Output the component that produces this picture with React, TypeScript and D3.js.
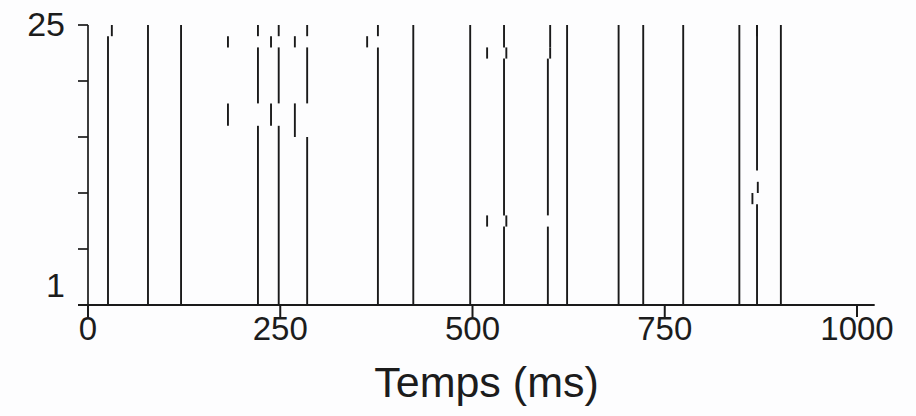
import React from "react";
import * as d3 from "d3";

// Spike columns present in every trial (1–25), times in ms
const fullColumns: number[] = [78, 121, 423, 497, 623, 690, 722, 774, 847, 901];

// Partial spike columns: time (ms) and trial range [from, to]
const partialTimes: number[] = [
  26, 31,
  182, 182,
  221, 221, 221,
  238, 238,
  248, 248, 248,
  269, 269,
  285, 285, 285,
  363,
  377, 377,
  519, 519,
  541, 541, 541, 544, 544,
  598, 598, 601, 601,
  870, 870, 871, 864, 870,
];
const partialFrom: number[] = [
  1, 25,
  24, 17,
  25, 19, 1,
  24, 17,
  25, 19, 1,
  24, 16,
  25, 19, 1,
  24,
  25, 1,
  23, 8,
  1, 9, 24, 8, 23,
  1, 9, 23, 24,
  13, 1, 11, 10, 25,
];
const partialTo: number[] = [
  24, 25,
  24, 18,
  25, 23, 16,
  24, 18,
  25, 23, 16,
  24, 18,
  25, 23, 15,
  24,
  25, 23,
  23, 8,
  7, 22, 25, 8, 23,
  7, 22, 23, 25,
  25, 9, 11, 10, 25,
];

const xTicks: number[] = [0, 250, 500, 750, 1000];
const yTicks: number[] = [0, 5, 10, 15, 20, 25];
const yLabels: { v: number; label: string }[] = [
  { v: 25, label: "25" },
  { v: 1, label: "1" },
];

const W = 916;
const H = 416;

export default function App() {
  const x = d3.scaleLinear().domain([0, 1000]).range([88, 857]);
  const y = d3.scaleLinear().domain([0, 25]).range([305, 25]);

  const segs: { t: number; a: number; b: number }[] = [];
  fullColumns.forEach((t) => segs.push({ t, a: 1, b: 25 }));
  partialTimes.forEach((t, i) =>
    segs.push({ t, a: partialFrom[i], b: partialTo[i] })
  );

  const ink = "#1a1a1a";
  const font = "'Liberation Sans', Arial, Helvetica, sans-serif";
  const axisY = y(0);

  return (
    <svg
      width={W}
      height={H}
      style={{ position: "absolute", left: 0, top: 0, display: "block", background: "#fff" }}
    >
      <rect x={0} y={0} width={W} height={H} fill="#fdfdfe" />
      {/* spikes */}
      <g stroke={ink} strokeWidth={1.9}>
        {segs.map((s, i) => (
          <line
            key={i}
            x1={x(s.t)}
            x2={x(s.t)}
            y1={y(s.a - 1)}
            y2={y(s.b)}
          />
        ))}
      </g>
      {/* y axis */}
      <g stroke={ink} strokeWidth={1.7}>
        <line x1={x(0)} x2={x(0)} y1={y(25)} y2={axisY} />
        {yTicks.map((v) => (
          <line key={v} x1={x(0) - 10} x2={x(0)} y1={y(v)} y2={y(v)} />
        ))}
      </g>
      {/* x axis */}
      <g stroke={ink} strokeWidth={2}>
        <line x1={x(0) - 10} x2={x(1023)} y1={axisY} y2={axisY} />
        {xTicks.map((v) => (
          <line key={v} x1={x(v)} x2={x(v)} y1={axisY} y2={axisY + 12} />
        ))}
      </g>
      <g fill="#1c1c1c" fontFamily={font}>
        {yLabels.map((d) => (
          <text
            key={d.label}
            x={65}
            y={y(d.v) + (d.v === 1 ? -9 : -1)}
            textAnchor="end"
            dominantBaseline="central"
            fontSize={34}
          >
            {d.label}
          </text>
        ))}
        {xTicks.map((v) => (
          <text key={v} x={x(v)} y={340} textAnchor="middle" fontSize={33}>
            {v}
          </text>
        ))}
        <text x={(x(0) + x(1000)) / 2 + 14} y={397} textAnchor="middle" fontSize={43}>
          Temps (ms)
        </text>
      </g>
    </svg>
  );
}
